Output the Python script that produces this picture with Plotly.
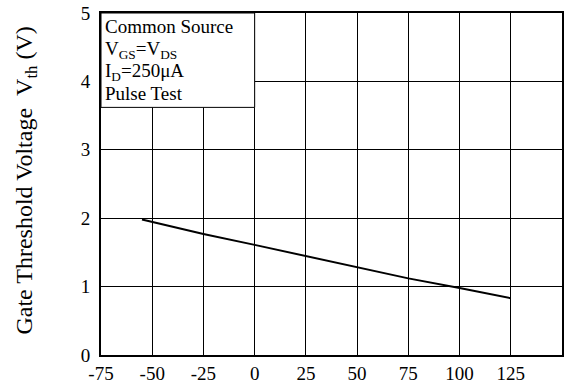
import plotly.graph_objects as go

temps = [-55, -25, 0, 25, 50, 75, 100, 125]
vth = [1.98, 1.77, 1.61, 1.45, 1.28, 1.12, 0.98, 0.83]
x_ticks = [-75, -50, -25, 0, 25, 50, 75, 100, 125, 150]
y_ticks = [0, 1, 2, 3, 4, 5]
note_lines = ["Common Source", "V<sub>GS</sub>=V<sub>DS</sub>", "I<sub>D</sub>=250μA", "Pulse Test"]
note_y = [4.80, 4.465, 4.14, 3.82]
y_title = "Gate Threshold Voltage\u00a0\u00a0V<sub>th</sub> (V)"

font = "Times New Roman, Liberation Serif, serif"

fig = go.Figure()
fig.add_trace(go.Scatter(x=temps, y=vth, mode="lines",
                         line=dict(color="black", width=2), showlegend=False))

fig.add_shape(type="rect", xref="x", yref="y", x0=-75, x1=0, y0=3.62, y1=5,
              fillcolor="white", line=dict(color="black", width=1), layer="above")
for txt, yy in zip(note_lines, note_y):
    fig.add_annotation(xref="x", yref="y", x=-73.8, y=yy, xanchor="left", yanchor="middle",
                       text=txt, showarrow=False, align="left",
                       font=dict(family=font, size=19, color="black"))
fig.add_annotation(xref="paper", yref="paper", x=-0.1627, y=0.51, xanchor="center", yanchor="middle",
                   text=y_title, textangle=-90, showarrow=False,
                   font=dict(family=font, size=24, color="black"))

fig.update_xaxes(range=[-75, 150], tickvals=x_ticks, ticktext=[str(v) for v in x_ticks],
                 showgrid=True, gridcolor="black", gridwidth=1, automargin=False,
                 showline=True, linecolor="black", linewidth=2, mirror=True,
                 zeroline=False, ticks="", ticklabelstandoff=0,
                 tickfont=dict(family=font, size=19, color="black"))
fig.update_yaxes(range=[0, 5], tickvals=y_ticks, ticktext=[str(v) for v in y_ticks],
                 showgrid=True, gridcolor="black", gridwidth=1, automargin=False,
                 showline=True, linecolor="black", linewidth=2, mirror=True,
                 zeroline=False, ticks="", ticklabelstandoff=5,
                 tickfont=dict(family=font, size=19, color="black"))

fig.update_layout(width=575, height=385, margin=dict(l=101, r=13, t=13, b=30, autoexpand=False),
                  plot_bgcolor="white", paper_bgcolor="white")
fig.write_html("out.html")
